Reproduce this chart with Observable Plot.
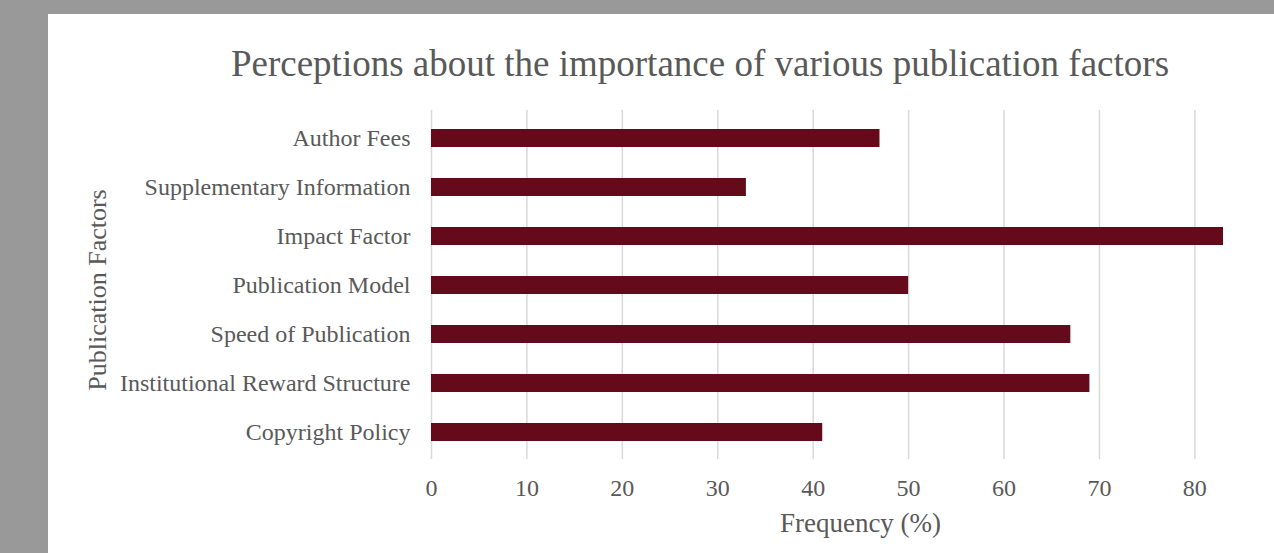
<!DOCTYPE html>
<html>
<head>
<meta charset="utf-8">
<script src="https://cdn.jsdelivr.net/npm/d3@7"></script>
<script src="https://cdn.jsdelivr.net/npm/@observablehq/plot@0.6"></script>
<style>
  html, body { margin: 0; padding: 0; width: 1274px; height: 553px; overflow: hidden; background: #999999; }
  #panel { position: absolute; left: 48px; top: 14px; width: 1226px; height: 539px; background: #ffffff; }
  #title { position: absolute; left: 48px; top: 45px; width: 1304px; text-align: center;
           font-family: "Liberation Serif", "Times New Roman", serif; font-size: 37px; line-height: 37px; color: #595959; white-space: nowrap; }
  #chart { position: absolute; left: 48px; top: 94px; }
</style>
</head>
<body>
<div id="panel"></div>
<div id="title">Perceptions about the importance of various publication factors</div>
<div id="chart"></div>
<script>
const factors = [
  "Author Fees",
  "Supplementary Information",
  "Impact Factor",
  "Publication Model",
  "Speed of Publication",
  "Institutional Reward Structure",
  "Copyright Policy"
];
const frequencies = [47, 33, 83, 50, 67, 69, 41];
const xTicks = [0, 10, 20, 30, 40, 50, 60, 70, 80];
const xTitle = "Frequency (%)";
const yTitle = "Publication Factors";

const data = factors.map((f, i) => ({factor: f, value: frequencies[i]}));

const chart = Plot.plot({
  width: 1226,
  height: 459,
  marginLeft: 383,
  marginRight: 51,
  marginTop: 16,
  marginBottom: 94,
  style: {
    fontFamily: '"Liberation Serif", "Times New Roman", serif',
    fontSize: "24px",
    color: "#595959",
    background: "transparent",
    overflow: "visible"
  },
  x: { domain: [0, 83] },
  y: { domain: factors, paddingInner: 0.64, paddingOuter: 0.32 },
  marks: [
    Plot.gridX(xTicks, { stroke: "#d9d9d9", strokeOpacity: 1, strokeWidth: 1.5 }),
    Plot.barX(data, { x: "value", y: "factor", fill: "#650a1a" }),
    Plot.axisX(xTicks, { tickSize: 0, tickPadding: 19, fontSize: 24, label: null, fill: "#595959" }),
    Plot.axisY({ tickSize: 0, tickPadding: 21, fontSize: 24, label: null, fill: "#595959" }),
    Plot.text([xTitle], { text: d => d, frameAnchor: "bottom", textAnchor: "middle", dy: 72, dx: 33, fontSize: 27, fill: "#595959" }),
    Plot.text([yTitle], { text: d => d, frameAnchor: "left", textAnchor: "middle", lineAnchor: "middle", rotate: -90, dx: -334, dy: 5, fontSize: 26, fill: "#595959" })
  ]
});
document.getElementById("chart").appendChild(chart);
</script>
</body>
</html>
